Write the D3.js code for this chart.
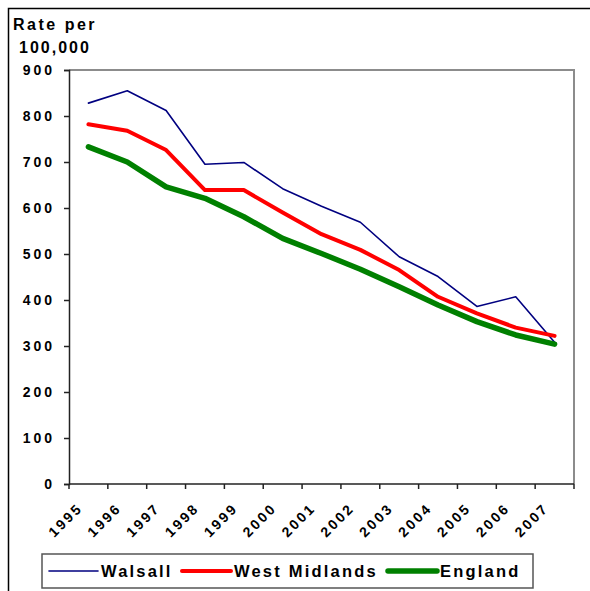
<!DOCTYPE html>
<html>
<head>
<meta charset="utf-8">
<script src="https://cdn.jsdelivr.net/npm/d3@7"></script>
<style>
  body { margin: 0; background: white; }
  text { font-family: "Liberation Sans", Arial, sans-serif; font-weight: bold; fill: #000; }
</style>
</head>
<body>
<script>
// data
const years = ["1995", "1996", "1997", "1998", "1999", "2000", "2001", "2002", "2003", "2004", "2005", "2006", "2007"];
const walsall = [828, 855, 812, 695, 699, 642, 604, 569, 494, 451, 386, 407, 308];
const westMidlands = [782, 768, 726, 639, 639, 590, 543, 509, 465, 407, 371, 340, 322];
const england = [733, 700, 646, 621, 581, 534, 501, 467, 429, 389, 353, 324, 304];
const yTicks = [0, 100, 200, 300, 400, 500, 600, 700, 800, 900];

const width = 590,
      height = 591,
      plotLeft = 69,
      plotRight = 574,
      plotTop = 70,
      plotBottom = 484;

const series = [
  { name: "Walsall", values: walsall, color: "#000080", width: 1.6 },
  { name: "West Midlands", values: westMidlands, color: "#ff0000", width: 4 },
  { name: "England", values: england, color: "#008000", width: 5.5 }
];

const svg = d3.select("body").append("svg")
  .attr("width", width)
  .attr("height", height);

// outer chart border (runs off the right and bottom edge)
svg.append("rect")
  .attr("x", 8.5).attr("y", 8.5)
  .attr("width", 620).attr("height", 620)
  .attr("fill", "none")
  .attr("stroke", "#000")
  .attr("stroke-width", 1.5);

const x = d3.scaleBand().domain(years).range([plotLeft, plotRight]);
const y = d3.scaleLinear().domain([0, 900]).range([plotBottom, plotTop]);

// plot area frame (top and right, grey)
svg.append("path")
  .attr("d", `M${plotLeft},${plotTop}H${plotRight}V${plotBottom}`)
  .attr("fill", "none")
  .attr("stroke", "#8c8c8c")
  .attr("stroke-width", 2);

// y axis
const yAxis = svg.append("g")
  .attr("transform", `translate(${plotLeft},0)`)
  .call(d3.axisLeft(y).tickValues(yTicks).tickSize(5).tickPadding(9));
yAxis.select(".domain").attr("stroke", "#222").attr("stroke-width", 1.5);
yAxis.selectAll(".tick line").attr("stroke", "#222").attr("stroke-width", 1.5);
yAxis.selectAll(".tick text")
  .attr("font-size", 14)
  .style("letter-spacing", "3px")
  .attr("font-family", "Liberation Sans, Arial, sans-serif")
  .attr("font-weight", "bold")
  .attr("fill", "#000");

// x axis with ticks on category boundaries
svg.append("line")
  .attr("x1", plotLeft).attr("x2", plotRight)
  .attr("y1", plotBottom).attr("y2", plotBottom)
  .attr("stroke", "#222").attr("stroke-width", 1.5);

svg.append("g").selectAll("line")
  .data(years.concat(["end"]))
  .join("line")
  .attr("x1", (d, i) => i < years.length ? x(d) : plotRight)
  .attr("x2", (d, i) => i < years.length ? x(d) : plotRight)
  .attr("y1", plotBottom)
  .attr("y2", plotBottom + 5)
  .attr("stroke", "#222").attr("stroke-width", 1.5);

svg.append("g").selectAll("text")
  .data(years)
  .join("text")
  .attr("transform", d => `translate(${x(d) + x.bandwidth() / 2 - 5},${plotBottom + 25}) rotate(-45)`)
  .attr("text-anchor", "end")
  .attr("font-size", 14)
  .style("letter-spacing", "2.5px")
  .text(d => d);

// y axis title
svg.append("text").attr("x", 13).attr("y", 30)
  .attr("font-size", 16).style("letter-spacing", "2.5px").text("Rate per");
svg.append("text").attr("x", 19).attr("y", 53)
  .attr("font-size", 16).style("letter-spacing", "2px").text("100,000");

// lines
const line = d3.line()
  .x((d, i) => x(years[i]) + x.bandwidth() / 2)
  .y(d => y(d));

svg.append("g").selectAll("path")
  .data(series)
  .join("path")
  .attr("d", s => line(s.values))
  .attr("fill", "none")
  .attr("stroke", s => s.color)
  .attr("stroke-width", s => s.width)
  .attr("stroke-linejoin", "round")
  .attr("stroke-linecap", "round");

// legend
const legend = svg.append("g");
legend.append("rect")
  .attr("x", 42).attr("y", 554)
  .attr("width", 491).attr("height", 34)
  .attr("fill", "white")
  .attr("stroke", "#555")
  .attr("stroke-width", 1.5);

const legendX = [49, 182, 388];
const items = legend.selectAll("g.item")
  .data(series)
  .join("g")
  .attr("class", "item")
  .attr("transform", (s, i) => `translate(${legendX[i]},571)`);

items.append("line")
  .attr("x1", 0).attr("x2", 49)
  .attr("stroke", s => s.color)
  .attr("stroke-width", s => s.width)
  .attr("stroke-linecap", "round");

items.append("text")
  .attr("x", 52)
  .attr("dy", "0.36em")
  .attr("font-size", 16.5)
  .style("letter-spacing", "2.2px")
  .text(s => s.name);
</script>
</body>
</html>
